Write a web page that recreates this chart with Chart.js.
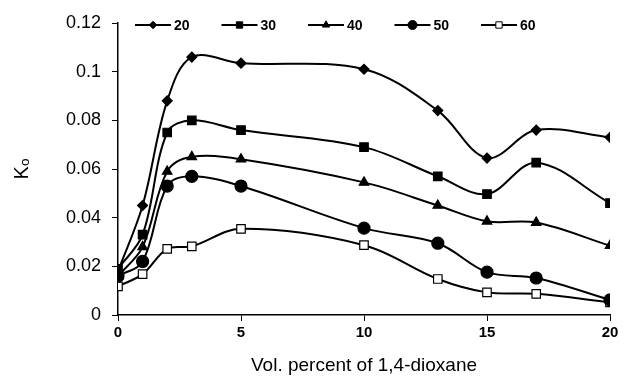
<!DOCTYPE html>
<html>
<head>
<meta charset="utf-8">
<script src="https://cdn.jsdelivr.net/npm/chart.js@4.4.0/dist/chart.umd.min.js"></script>
<style>
  html, body { margin: 0; padding: 0; background: #fff; }
  #wrap { width: 626px; height: 388px; }
</style>
</head>
<body>
<div id="wrap"><canvas id="chart" width="626" height="388"></canvas></div>
<script>
// dioxane volume percent
const xValues = [0, 1, 2, 3, 5, 10, 13, 15, 17, 20];
const seriesNames = ['20', '30', '40', '50', '60'];

const k20 = [0.018, 0.045, 0.088, 0.106, 0.1035, 0.101, 0.084, 0.0645, 0.076, 0.073];
const k30 = [0.019, 0.033, 0.075, 0.080, 0.076, 0.069, 0.057, 0.0497, 0.0626, 0.046];
const k40 = [0.016, 0.028, 0.059, 0.065, 0.064, 0.0545, 0.045, 0.0385, 0.038, 0.0285];
const k50 = [0.016, 0.022, 0.053, 0.057, 0.053, 0.0357, 0.0295, 0.0176, 0.0152, 0.0062];
const k60 = [0.0118, 0.0168, 0.0272, 0.0282, 0.0354, 0.0287, 0.0148, 0.0093, 0.0087, 0.0052];

const yTicks = [0, 0.02, 0.04, 0.06, 0.08, 0.1, 0.12];
const xTicks = [0, 5, 10, 15, 20];

function toPoints(vals) {
    return xValues.map((x, i) => ({ x: x, y: vals[i] }));
}

const styles = [
    { pointStyle: 'rectRot', radius: 5, fill: '#000' },
    { pointStyle: 'rect', radius: 6, fill: '#000' },
    { pointStyle: 'triangle', radius: 5.5, fill: '#000' },
    { pointStyle: 'circle', radius: 6, fill: '#000' },
    { pointStyle: 'rect', radius: 6, fill: '#fff' }
];

const allSeries = [k20, k30, k40, k50, k60];

const datasets = allSeries.map((vals, i) => ({
    label: seriesNames[i],
    data: toPoints(vals),
    borderColor: '#000',
    borderWidth: 2,
    backgroundColor: styles[i].fill,
    pointBackgroundColor: styles[i].fill,
    pointBorderColor: '#000',
    pointBorderWidth: 1.2,
    pointStyle: styles[i].pointStyle,
    pointRadius: styles[i].radius,
    tension: 0.35,
    fill: false
}));

// legend drawn over the top of the plot like the original
const topLegend = {
    id: 'topLegend',
    afterDraw(chart) {
        const ctx = chart.ctx;
        const y = 25;
        ctx.save();
        chart.data.datasets.forEach((ds, i) => {
            const x0 = 135 + i * 86.5;
            ctx.fillStyle = '#fff';
            ctx.fillRect(x0 - 3, y - 10, 72, 20);
            ctx.strokeStyle = '#000';
            ctx.lineWidth = 2;
            ctx.beginPath();
            ctx.moveTo(x0, y);
            ctx.lineTo(x0 + 36, y);
            ctx.stroke();
            ctx.fillStyle = ds.pointBackgroundColor;
            ctx.lineWidth = 1;
            Chart.helpers.drawPoint(ctx, {
                pointStyle: ds.pointStyle,
                radius: ds.pointRadius * 0.75,
                borderWidth: 1,
                rotation: 0
            }, x0 + 18, y);
            ctx.fillStyle = '#000';
            ctx.font = 'bold 14px "Liberation Sans", Arial, sans-serif';
            ctx.textBaseline = 'middle';
            ctx.textAlign = 'left';
            ctx.fillText(ds.label, x0 + 39, y + 1);
        });
        ctx.restore();
    }
};

new Chart(document.getElementById('chart'), {
    type: 'line',
    data: { datasets: datasets },
    options: {
        responsive: false,
        animation: false,
        layout: { padding: { top: 23, right: 16, left: 0, bottom: 0 } },
        plugins: {
            legend: { display: false },
            tooltip: { enabled: false }
        },
        scales: {
            x: {
                type: 'linear',
                min: 0,
                max: 20,
                afterBuildTicks: (scale) => { scale.ticks = xTicks.map(v => ({ value: v })); },
                afterFit: (scale) => { scale.height = 73; },
                border: { color: '#000', width: 1.5 },
                grid: { display: true, drawOnChartArea: false, tickLength: 6, color: '#000' },
                ticks: {
                    color: '#000',
                    padding: 3,
                    maxRotation: 0,
                    font: { family: '"Liberation Sans", Arial, sans-serif', size: 15, weight: 'bold' }
                },
                title: {
                    display: true,
                    text: 'Vol. percent of 1,4-dioxane',
                    color: '#000',
                    padding: { top: 4, bottom: 11 },
                    font: { family: '"Liberation Sans", Arial, sans-serif', size: 19 }
                }
            },
            y: {
                min: 0,
                max: 0.12,
                afterBuildTicks: (scale) => { scale.ticks = yTicks.map(v => ({ value: v })); },
                afterFit: (scale) => { scale.width = 118; },
                border: { color: '#000', width: 1.5 },
                grid: { display: true, drawOnChartArea: false, tickLength: 6, color: '#000' },
                ticks: {
                    color: '#000',
                    padding: 11,
                    callback: (v) => String(Math.round(v * 100) / 100),
                    font: { family: '"Liberation Sans", Arial, sans-serif', size: 18 }
                },
                title: {
                    display: true,
                    text: 'K\u2092',
                    color: '#000',
                    padding: { top: 10, bottom: 0 },
                    font: { family: '"Liberation Sans", Arial, sans-serif', size: 20 }
                }
            }
        }
    },
    plugins: [topLegend]
});
</script>
</body>
</html>
